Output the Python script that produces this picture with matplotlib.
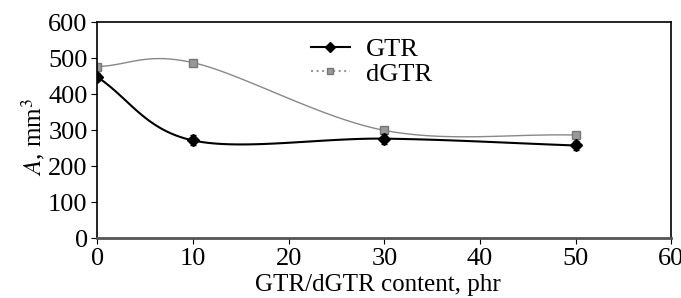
import numpy as np
import matplotlib
matplotlib.use('Agg')
import matplotlib.pyplot as plt

plt.rcParams['font.family'] = ['Liberation Serif', 'DejaVu Serif']
plt.rcParams['mathtext.fontset'] = 'stix'

content = [0, 10, 30, 50]
gtr = [448, 272, 277, 258]
gtr_err = [12, 14, 14, 12]
dgtr = [477, 488, 300, 287]


def smooth(x, y, n=40):
    # catmull-rom style smoothing, like the spreadsheet "smoothed line"
    x = np.asarray(x, float)
    y = np.asarray(y, float)
    px = np.concatenate([[2 * x[0] - x[1]], x, [2 * x[-1] - x[-2]]])
    py = np.concatenate([[2 * y[0] - y[1]], y, [2 * y[-1] - y[-2]]])
    xs, ys = [], []
    t = np.linspace(0, 1, n)
    for i in range(1, len(px) - 2):
        p0, p1, p2, p3 = [np.array([px[j], py[j]]) for j in range(i - 1, i + 3)]
        pts = 0.5 * ((2 * p1)[:, None] + (-p0 + p2)[:, None] * t
                     + (2 * p0 - 5 * p1 + 4 * p2 - p3)[:, None] * t ** 2
                     + (-p0 + 3 * p1 - 3 * p2 + p3)[:, None] * t ** 3)
        xs.extend(pts[0])
        ys.extend(pts[1])
    return np.array(xs), np.array(ys)


fig = plt.figure(figsize=(6.81, 2.98), dpi=100)
ax = fig.add_axes([0.143, 0.2, 0.843, 0.725])

sx, sy = smooth(content, dgtr)
ax.plot(sx, sy, color='#888888', lw=1.0)
ax.plot(content, dgtr, ls='none', marker='s', ms=5.5,
        mfc='#999999', mec='#777777')

sx, sy = smooth(content, gtr)
ax.plot(sx, sy, color='black', lw=1.5)
ax.errorbar(content, gtr, yerr=gtr_err, fmt='D', color='black', ms=6,
            ecolor='black', elinewidth=1, capsize=2)

# legend proxies
l1, = ax.plot([], [], color='black', lw=1.5, marker='D', ms=5)
l2, = ax.plot([], [], color='#999999', ls=':', lw=1.5, marker='s', ms=5,
              mec='#777777')
ax.legend([l1, l2], ['GTR', 'dGTR'], loc='upper left', bbox_to_anchor=(0.33, 1.04),
          frameon=False, fontsize=19, handlelength=1.5, handletextpad=0.6,
          labelspacing=0.05)

ax.set_xlim(0, 60)
ax.set_ylim(0, 600)
ax.set_xticks(range(0, 61, 10))
ax.set_yticks(range(0, 601, 100))
ax.tick_params(labelsize=19, direction='out', length=4, pad=3)
ax.set_xlabel('GTR/dGTR content, phr', fontsize=18, labelpad=0)
ax.xaxis.set_label_coords(0.488, -0.165)
ax.set_ylabel(r'$A$, mm$^{3}$', fontsize=18, labelpad=0)
ax.yaxis.set_label_coords(-0.088, 0.47)
for s in ax.spines.values():
    s.set_linewidth(1.2)
ax.spines['bottom'].set_color('#555555')
ax.spines['bottom'].set_linewidth(2)

fig.savefig('out.png', dpi=100)
